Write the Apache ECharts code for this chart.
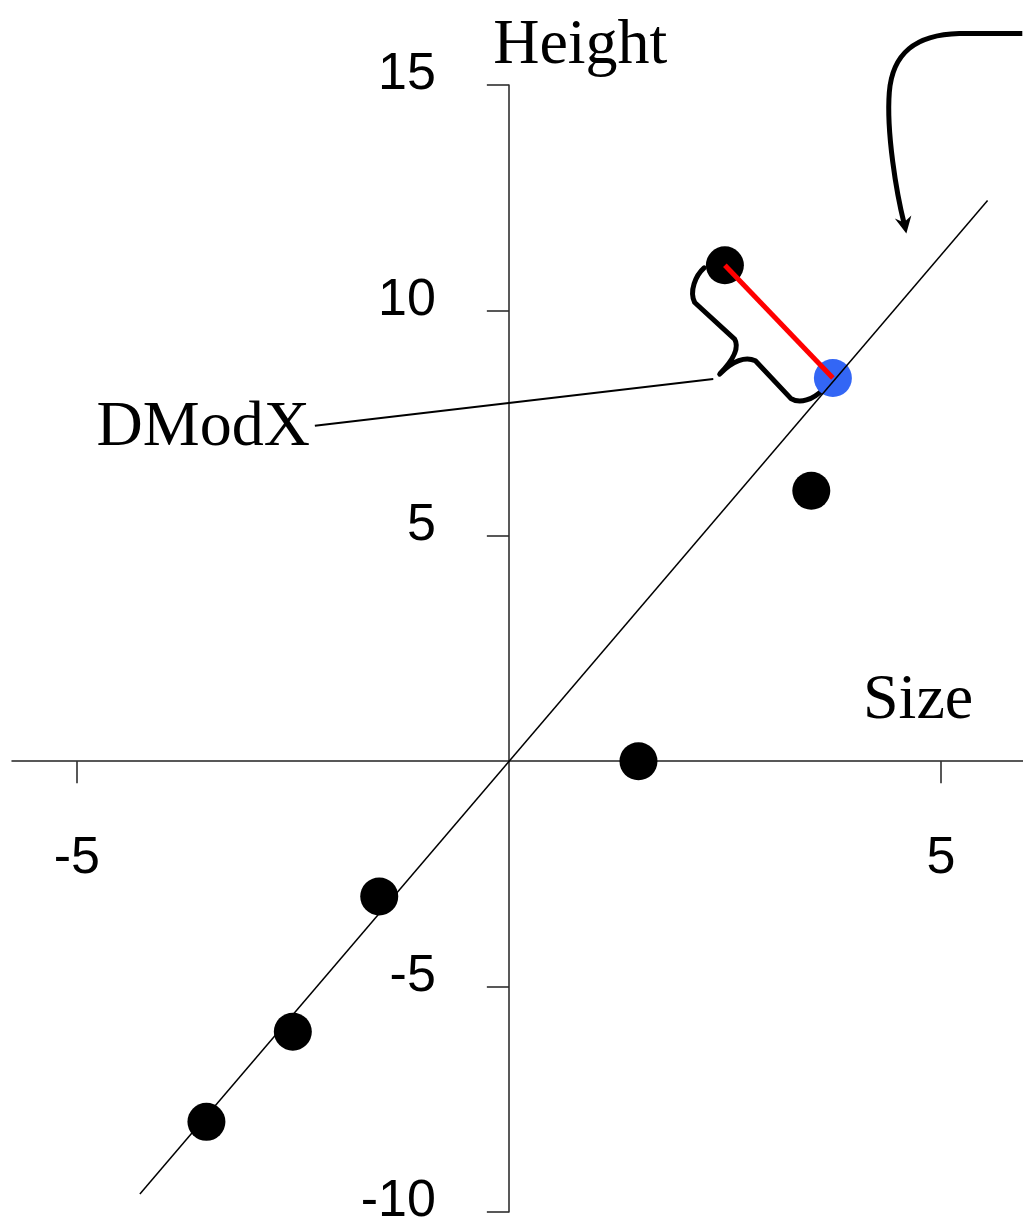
<!DOCTYPE html>
<html>
<head>
<meta charset="utf-8">
<script src="https://cdn.jsdelivr.net/npm/echarts@6/dist/echarts.min.js"></script>
<style>
  html, body { margin: 0; padding: 0; background: #fff; }
  #chart { width: 1023px; height: 1226px; }
</style>
</head>
<body>
<div id="chart"></div>
<script>
// observations
const obsX = [2.5, 3.5, 1.5, -1.5, -2.5, -3.5];
const obsY = [11, 6, 0, -3, -6, -8];
// projected point on the model line
const projX = [3.75];
const projY = [8.5];
// model line (through origin)
const fitX = [-4.27, 5.54];
const fitY = [-9.6, 12.44];
// ticks
const xTicks = [-5, 5];
const yTicks = [-10, -5, 5, 10, 15];

// annotation anchors (data coords)
const heightAnchor = [-0.17, 15.86];
const sizeAnchor = [4.11, 1.33];
const leaderStart = [-2.245, 7.44];
const arrowTip = [4.6, 11.73];

// brace shape along the red segment: s along it, t outward (px)
const braceCmds = [
  ['M', -12.5, 16.8],
  ['C', -13, 28, -6, 44, 6, 47.5],
  ['L', 60, 44],
  ['C', 68, 46, 74, 56, 75, 79],
  ['C', 74, 60, 80, 48, 90, 44],
  ['L', 142, 44.5],
  ['C', 152, 42, 158, 30, 157.7, 13.4]
];

const pairs = (xs, ys) => xs.map((x, i) => [x, ys[i]]);

function renderNotes(params, api) {
  const p1 = api.coord([obsX[0], obsY[0]]);
  const p2 = api.coord([projX[0], projY[0]]);
  const len = Math.hypot(p2[0] - p1[0], p2[1] - p1[1]);
  const u = [(p2[0] - p1[0]) / len, (p2[1] - p1[1]) / len];
  const v = [-u[1], u[0]];
  const loc = (s, t) => [p1[0] + s * u[0] + t * v[0], p1[1] + s * u[1] + t * v[1]];

  let bracePath = '';
  braceCmds.forEach(c => {
    bracePath += c[0];
    for (let i = 1; i < c.length; i += 2) {
      const q = loc(c[i], c[i + 1]);
      bracePath += ' ' + q[0].toFixed(1) + ' ' + q[1].toFixed(1);
    }
    bracePath += ' ';
  });

  const leadA = api.coord(leaderStart);
  const leadB = loc(74, 87);

  // curved arrow, offsets from its tip in px
  const tip = api.coord(arrowTip);
  const rel = (dx, dy) => (tip[0] + dx).toFixed(1) + ' ' + (tip[1] + dy).toFixed(1);
  const arrowPath = 'M ' + rel(116, -199) + ' L ' + rel(53, -199) +
    ' C ' + rel(10, -198) + ' ' + rel(-14, -180) + ' ' + rel(-17, -140) +
    ' C ' + rel(-20, -100) + ' ' + rel(-10, -40) + ' ' + rel(-2, -8);
  const headPts = [[0, 1], [-11.5, -14], [-2.5, -10], [5, -17]].map(d => [tip[0] + d[0], tip[1] + d[1]]);

  const hPx = api.coord(heightAnchor);
  const sPx = api.coord(sizeAnchor);

  const serif = (txt, pos, align) => ({
    type: 'text',
    style: {
      text: txt, x: pos[0], y: pos[1],
      fontSize: 64, fontFamily: 'Liberation Serif', fill: '#000',
      align: align, textAlign: align, verticalAlign: 'middle', textVerticalAlign: 'middle'
    }
  });

  return {
    type: 'group',
    children: [
      {
        type: 'path', shape: { pathData: bracePath },
        style: { fill: 'none', stroke: '#000', lineWidth: 5, lineCap: 'round', lineJoin: 'round' }
      },
      {
        type: 'line', shape: { x1: leadA[0], y1: leadA[1], x2: leadB[0], y2: leadB[1] },
        style: { stroke: '#000', lineWidth: 2 }
      },
      {
        type: 'path', shape: { pathData: arrowPath },
        style: { fill: 'none', stroke: '#000', lineWidth: 5 }
      },
      { type: 'polygon', shape: { points: headPts }, style: { fill: '#000' } },
      serif('Height', [hPx[0] - 1, hPx[1]], 'left'),
      serif('Size', [sPx[0] - 1, sPx[1]], 'left'),
      serif('DModX', [leadA[0] - 5, leadA[1] + 2], 'right')
    ]
  };
}

const chart = echarts.init(document.getElementById('chart'));

const axisColor = '#222';

chart.setOption({
  animation: false,
  backgroundColor: '#fff',
  grid: { left: 12, right: 0, top: 85, bottom: 14, outerBoundsMode: 'none' },
  xAxis: {
    type: 'value',
    min: -5.75,
    max: 5.95,
    splitLine: { show: false },
    axisLine: { onZero: false, lineStyle: { color: axisColor, width: 1.5 } },
    axisTick: { customValues: xTicks, length: 22, lineStyle: { color: axisColor, width: 1.5 } },
    axisLabel: {
      customValues: xTicks, margin: 71, color: '#000',
      fontSize: 52, fontFamily: 'Liberation Sans'
    }
  },
  yAxis: {
    type: 'value',
    min: -10,
    max: 15,
    interval: 5,
    splitLine: { show: false },
    axisLine: { onZero: false, lineStyle: { color: axisColor, width: 1.5 } },
    axisTick: { customValues: yTicks, length: 22, lineStyle: { color: axisColor, width: 1.5 } },
    axisLabel: {
      customValues: yTicks, margin: 73, color: '#000',
      fontSize: 52, fontFamily: 'Liberation Sans',
      verticalAlign: 'bottom', lineHeight: 20
    }
  },
  series: [
    {
      type: 'line', data: pairs(fitX, fitY), symbol: 'none', silent: true,
      lineStyle: { color: '#000', width: 1.5 }
    },
    {
      type: 'custom', data: [[0, 0]], silent: true, renderItem: renderNotes, z: 1
    },
    {
      type: 'line', data: [[obsX[0], obsY[0]], [projX[0], projY[0]]], symbol: 'none', silent: true,
      lineStyle: { color: '#ff0000', width: 5 }
    },
    {
      type: 'scatter', data: pairs(obsX, obsY), symbolSize: 38,
      itemStyle: { color: '#000', opacity: 1 }
    },
    {
      type: 'scatter', data: pairs(projX, projY), symbolSize: 38,
      itemStyle: { color: '#3366f5', opacity: 1 }
    }
  ]
});

// move both axes (line, ticks and labels) onto the origin
const origin = chart.convertToPixel({ gridIndex: 0 }, [0, 0]);
const gridRect = chart.getModel().getComponent('grid', 0).coordinateSystem.getRect();
chart.setOption({
  xAxis: { offset: -(gridRect.y + gridRect.height - origin[1]) },
  yAxis: { offset: -(origin[0] - gridRect.x) }
});
</script>
</body>
</html>
